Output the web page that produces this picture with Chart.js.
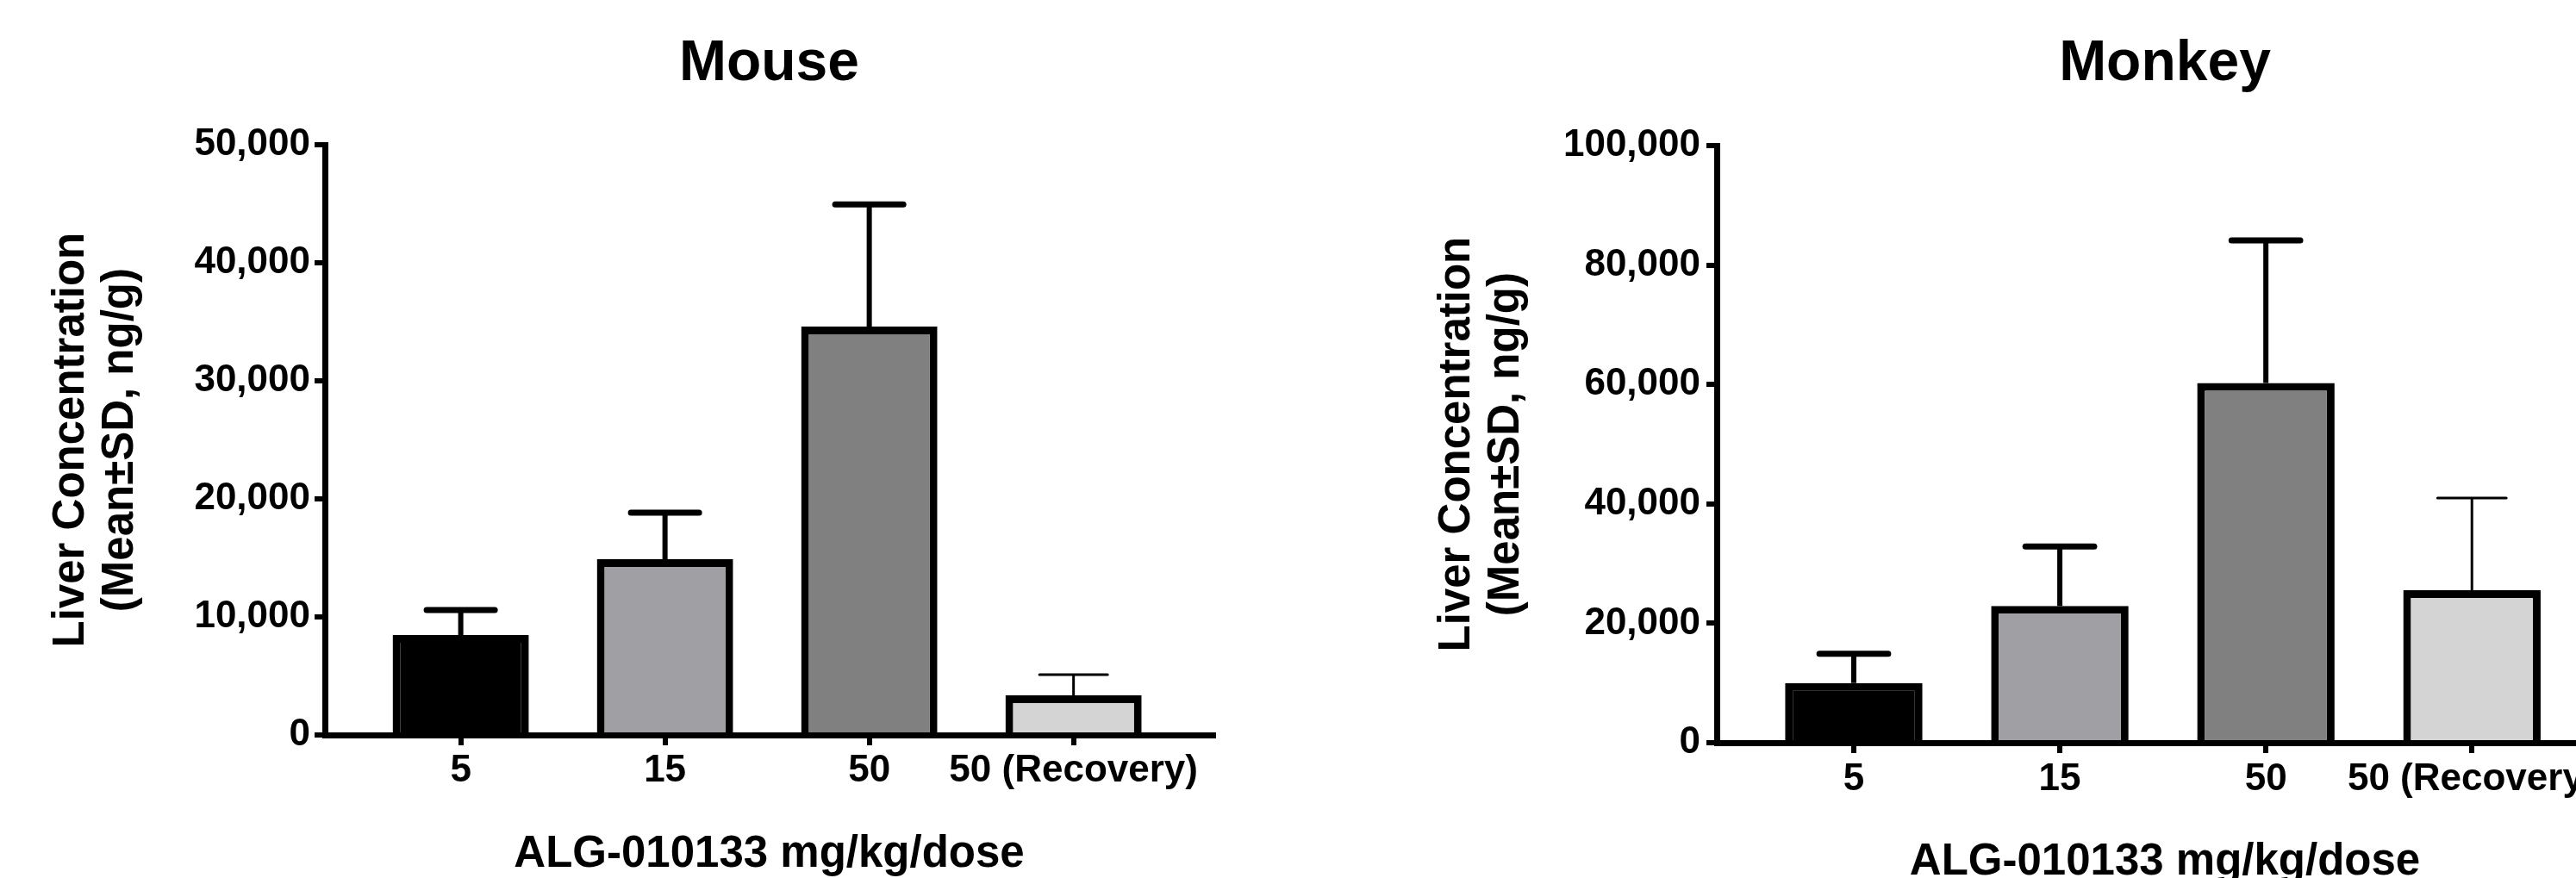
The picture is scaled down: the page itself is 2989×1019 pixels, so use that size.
<!DOCTYPE html>
<html>
<head>
<meta charset="utf-8">
<script src="https://cdn.jsdelivr.net/npm/chart.js@4.4.1/dist/chart.umd.min.js"></script>
<style>
html,body{margin:0;padding:0;background:#fff;width:2989px;height:1019px;overflow:hidden;position:relative}
canvas{position:absolute;top:0}
#mouse{left:0;width:1785px;height:1030px}
#monkey{left:1500px;width:2024px;height:1040px}
</style>
</head>
<body>
<canvas id="mouse" width="1785" height="1030"></canvas>
<canvas id="monkey" width="2024" height="1040"></canvas>
<script>
// ---- data ----
const categories = ['5', '15', '50', '50 (Recovery)'];
const mouseMean = [8470, 14890, 34600, 3360];
const mouseSD = [2110, 3940, 10360, 1750];
const monkeyMean = [10000, 22900, 60250, 25540];
const monkeySD = [4900, 9960, 23890, 15470];
const mouseTicks = [0, 10000, 20000, 30000, 40000, 50000];
const monkeyTicks = [0, 20000, 40000, 60000, 80000, 100000];
const barColors = ['#000000', '#a09fa4', '#808080', '#d4d4d4'];
const errLineWidths = [6, 6, 6, 3];
const errCapWidths = [7, 7, 7, 3];
const xTitle = 'ALG-010133 mg/kg/dose';
const yTitle = ['Liver Concentration', '(Mean\u00B1SD, ng/g)'];

const FONT = "'Liberation Sans', Arial, Helvetica, sans-serif";
Chart.defaults.font.family = FONT;
Chart.defaults.color = '#000';

function buildChart(id, cfg) {
  const errorBars = {
    id: 'errorBars_' + id,
    afterDatasetsDraw(chart) {
      const ctx = chart.ctx;
      const yScale = chart.scales.y;
      const meta = chart.getDatasetMeta(0);
      ctx.save();
      ctx.strokeStyle = '#000';
      meta.data.forEach((bar, i) => {
        const yTop = yScale.getPixelForValue(cfg.means[i] + cfg.sds[i]);
        const half = bar.width / 4;
        ctx.lineCap = 'butt';
        ctx.lineWidth = errLineWidths[i];
        ctx.beginPath();
        ctx.moveTo(bar.x, bar.y);
        ctx.lineTo(bar.x, yTop);
        ctx.stroke();
        ctx.lineCap = 'round';
        ctx.lineWidth = errCapWidths[i];
        ctx.beginPath();
        ctx.moveTo(bar.x - half, yTop);
        ctx.lineTo(bar.x + half, yTop);
        ctx.stroke();
      });
      ctx.restore();
    }
  };

  const axisGrid = {
    offset: false, drawOnChartArea: false, drawTicks: true, tickLength: 12, tickWidth: 6,
    tickColor: '#000', color: '#000', lineWidth: 6
  };
  const axisBorder = { display: true, color: '#000', width: 7 };

  return new Chart(document.getElementById(id), {
    type: 'bar',
    data: {
      datasets: [{
        data: cfg.means.map((v, i) => ({ x: i, y: v })),
        backgroundColor: barColors,
        borderColor: '#000',
        borderWidth: 9,
        borderSkipped: 'start',
        barPercentage: 0.667,
        categoryPercentage: 1
      }]
    },
    options: {
      responsive: false,
      animation: false,
      devicePixelRatio: 1,
      layout: { padding: { left: 0, right: cfg.padRight, top: 0, bottom: 0 } },
      plugins: {
        legend: { display: false },
        tooltip: { enabled: false },
        title: {
          display: true, fullSize: false, text: cfg.title, color: '#000',
          font: { family: FONT, size: 66, weight: 'bold', lineHeight: 1.2 },
          padding: { top: 35, bottom: cfg.titleBottom }
        }
      },
      scales: {
        x: {
          type: 'linear', min: -0.665, max: 3.685, offset: false, z: 1,
          afterBuildTicks: s => { s.ticks = categories.map((c, i) => ({ value: i })); },
          afterFit: s => { s.height = cfg.xHeight; },
          ticks: {
            autoSkip: false, maxRotation: 0, minRotation: 0, padding: cfg.xPad, color: '#000',
            font: { family: FONT, size: 44, weight: 'bold' },
            callback: v => categories[v]
          },
          grid: axisGrid,
          border: axisBorder,
          title: {
            display: true, text: xTitle, color: '#000',
            font: { family: FONT, size: 51, weight: 'bold', lineHeight: 1.2 },
            padding: { top: 0, bottom: cfg.xTitleBottom }
          }
        },
        y: {
          min: 0, max: cfg.ticks[cfg.ticks.length - 1], z: 1,
          afterBuildTicks: s => { s.ticks = cfg.ticks.map(v => ({ value: v })); },
          afterFit: s => { s.width = cfg.yWidth; },
          ticks: {
            padding: cfg.yPad, color: '#000',
            font: { family: FONT, size: 44, weight: 'bold' },
            callback: v => Number(v).toLocaleString('en-US')
          },
          grid: axisGrid,
          border: axisBorder,
          title: {
            display: true, text: yTitle, color: '#000',
            font: { family: FONT, size: 51, weight: 'bold', lineHeight: 57 / 51 },
            padding: { top: cfg.yTitleTop, bottom: 0 }
          }
        }
      }
    },
    plugins: [errorBars]
  });
}

buildChart('mouse', {
  title: 'Mouse', means: mouseMean, sds: mouseSD, ticks: mouseTicks,
  padRight: 377, titleBottom: 54, xHeight: 177, xTitleBottom: 7, xPad: 3,
  yWidth: 377, yPad: 5, yTitleTop: 54
});

buildChart('monkey', {
  title: 'Monkey', means: monkeyMean, sds: monkeySD, ticks: monkeyTicks,
  padRight: 492, titleBottom: 55, xHeight: 178, xTitleBottom: 8, xPad: 4,
  yWidth: 492, yPad: 7, yTitleTop: 162
});
</script>
</body>
</html>
